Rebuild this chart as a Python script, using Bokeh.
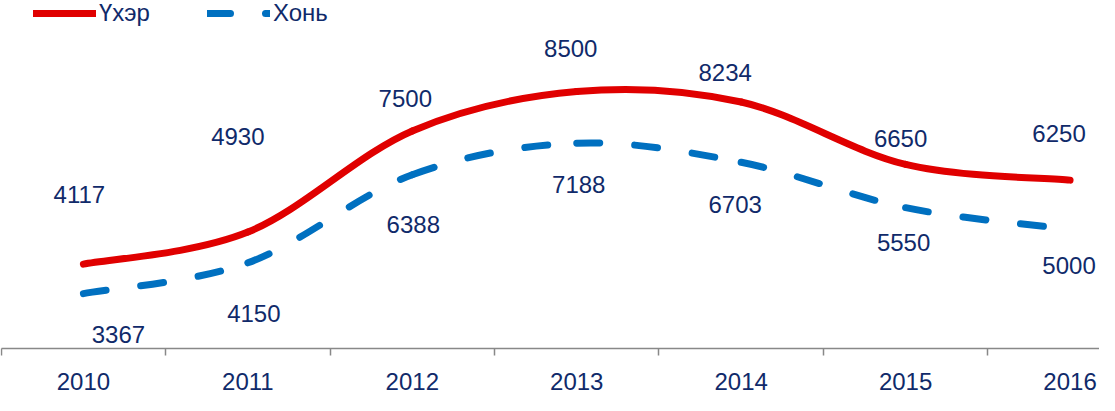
from bokeh.plotting import figure
from bokeh.models import ColumnDataSource, Range1d, LinearAxis, FixedTicker, Legend, LegendItem
from bokeh.core.properties import value
from bokeh.embed import file_html
from bokeh.resources import INLINE

# ---- data ----
years = ["2010", "2011", "2012", "2013", "2014", "2015", "2016"]
cattle = [4117, 4930, 7500, 8500, 8234, 6650, 6250]   # Үхэр
sheep = [3367, 4150, 6388, 7188, 6703, 5550, 5000]    # Хонь

# ---- label placement (pixels, relative to the point) ----
cattle_dx = [-4, -10, -7, -6, -16, -5, -11]
cattle_dy = [-70, -96, -32, -43, -30, -26, -47]
sheep_dx = [35, 6, 1, 2, -6, -2, -1]
sheep_dy = [41, 51, 50, 41, 42, 35, 36]

RED = "#E00000"
BLUE = "#0070C0"
TXT = "#102A6A"
AXIS = "#888888"
FONT = "Liberation Sans"

W, H = 1099, 395
p = figure(width=W, height=H, output_backend="svg", toolbar_location=None,
           x_range=Range1d(-0.5042, 6.179), y_range=Range1d(780, 10812),
           x_axis_location=None, y_axis_location=None,
           min_border_left=0, min_border_right=0, min_border_top=0, min_border_bottom=0)
p.grid.visible = False
p.outline_line_color = None
p.background_fill_color = "white"
p.border_fill_color = "white"


def bezier_source(vals):
    n = len(vals)
    xs = list(range(n))

    def P(i):
        i = max(0, min(n - 1, i))
        return xs[i], vals[i]

    d = dict(x0=[], y0=[], x1=[], y1=[], cx0=[], cy0=[], cx1=[], cy1=[])
    for i in range(n - 1):
        x0, y0 = P(i)
        x1, y1 = P(i + 1)
        xm, ym = P(i - 1)
        x2, y2 = P(i + 2)
        d["x0"].append(x0); d["y0"].append(y0)
        d["x1"].append(x1); d["y1"].append(y1)
        d["cx0"].append(x0 + (x1 - xm) / 6); d["cy0"].append(y0 + (y1 - ym) / 6)
        d["cx1"].append(x1 - (x2 - x0) / 6); d["cy1"].append(y1 - (y2 - y0) / 6)
    return ColumnDataSource(d)


r_cattle = p.bezier(x0="x0", y0="y0", x1="x1", y1="y1", cx0="cx0", cy0="cy0",
                    cx1="cx1", cy1="cy1", source=bezier_source(cattle),
                    line_color=RED, line_width=7, line_cap="round")
r_sheep = p.bezier(x0="x0", y0="y0", x1="x1", y1="y1", cx0="cx0", cy0="cy0",
                   cx1="cx1", cy1="cy1", source=bezier_source(sheep),
                   line_color=BLUE, line_width=7, line_cap="round", line_dash="23 35")

idx = list(range(len(years)))
lab_c = ColumnDataSource(dict(x=idx, y=cattle, t=[str(v) for v in cattle],
                              dx=cattle_dx, dy=cattle_dy))
lab_s = ColumnDataSource(dict(x=idx, y=sheep, t=[str(v) for v in sheep],
                              dx=sheep_dx, dy=sheep_dy))
for src in (lab_c, lab_s):
    p.text(x="x", y="y", text="t", x_offset="dx", y_offset="dy", source=src,
           text_align="center", text_baseline="middle", text_color=TXT,
           text_font=value(FONT), text_font_size="24px")

# ---- x axis: labels at category centres, ticks between categories ----
ax = LinearAxis(ticker=FixedTicker(ticks=idx, minor_ticks=[i - 0.5 for i in range(len(years) + 1)]),
                fixed_location=1978, bounds=(-0.5, 6.5))
ax.major_label_overrides = {i: years[i] for i in idx}
ax.major_tick_line_color = None
ax.major_tick_in = 0
ax.major_tick_out = 0
ax.minor_tick_line_color = AXIS
ax.minor_tick_line_width = 1.5
ax.minor_tick_in = 0
ax.minor_tick_out = 7
ax.axis_line_color = AXIS
ax.axis_line_width = 1.5
ax.major_label_standoff = 18
ax.major_label_text_font = FONT
ax.major_label_text_font_size = "24px"
ax.major_label_text_color = TXT
p.add_layout(ax, "below")

# ---- legend ----
legend = Legend(items=[LegendItem(label="Үхэр", renderers=[r_cattle]),
                       LegendItem(label="Хонь", renderers=[r_sheep])],
                orientation="horizontal", location=(33, 368),
                glyph_width=63, glyph_height=24, label_height=24, label_standoff=3,
                spacing=57, padding=0, margin=0,
                border_line_color=None, background_fill_alpha=0,
                label_text_font=FONT, label_text_font_size="24px", label_text_color=TXT)
p.add_layout(legend)

open("out.html", "w").write(file_html(p, INLINE))
